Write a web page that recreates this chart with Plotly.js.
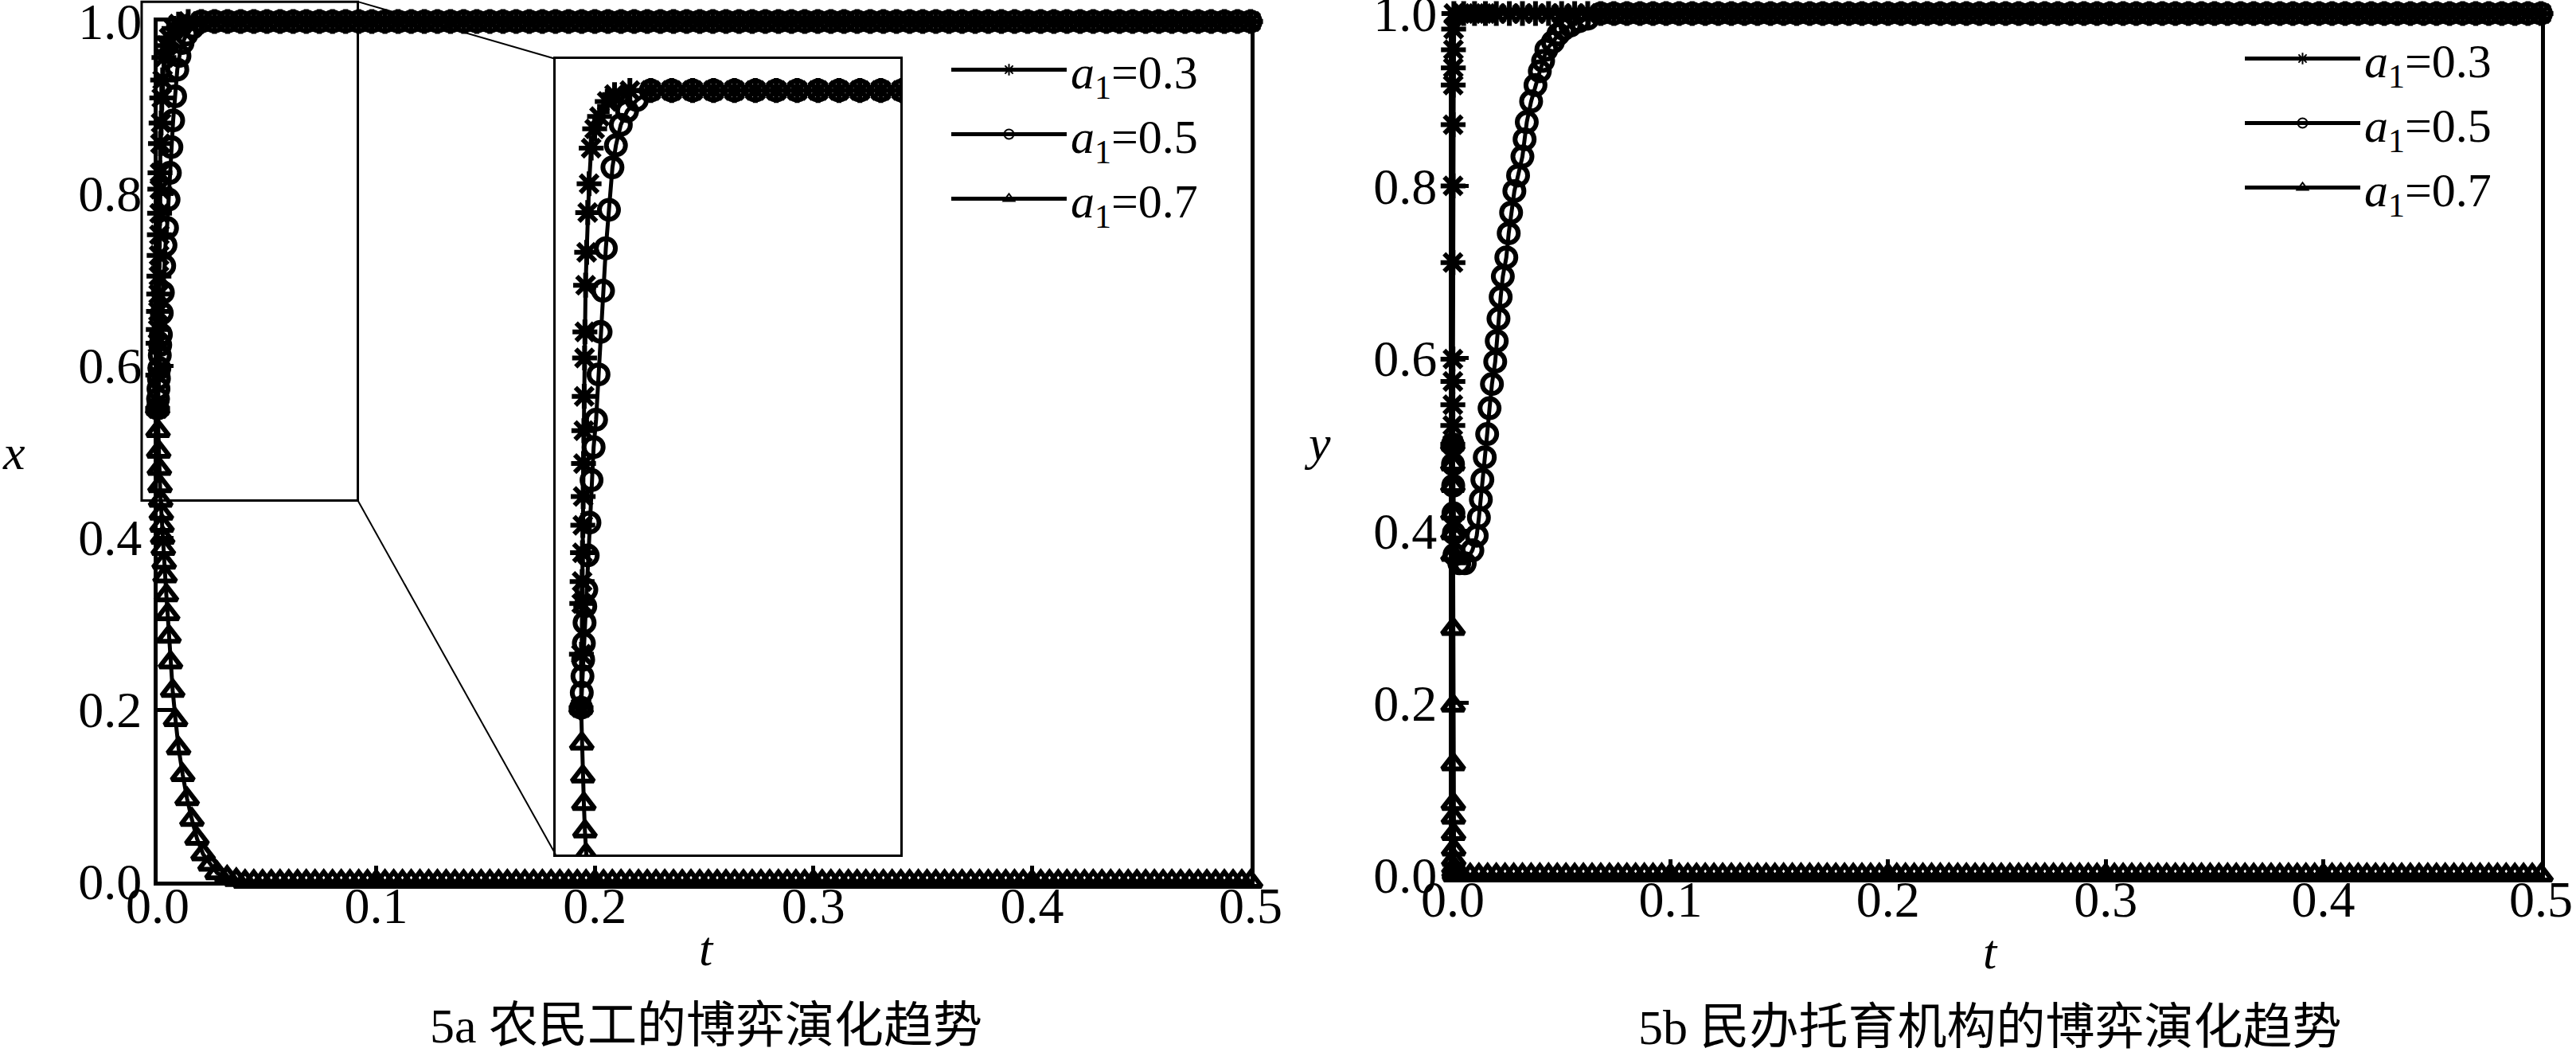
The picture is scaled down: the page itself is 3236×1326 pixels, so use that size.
<!DOCTYPE html>
<html><head><meta charset="utf-8">
<script src="https://cdn.plot.ly/plotly-3.0.1.min.js"></script>
<style>html,body{margin:0;padding:0;background:#fff;}#chart{width:3236px;height:1326px;}</style>
</head><body><div id="chart"></div>
<script>
// ---------- data ----------
const seriesNames = ['<i>a</i><sub>1</sub>=0.3', '<i>a</i><sub>1</sub>=0.5', '<i>a</i><sub>1</sub>=0.7'];
const xTicks = [0, 0.1, 0.2, 0.3, 0.4, 0.5];
const yTicks = [0, 0.2, 0.4, 0.6, 0.8, 1.0];

// shared time samples on the plateau (value 1) and on the floor (value 0)
const tTop = [0.020,0.026,0.032,0.038,0.044,0.050,0.056,0.062,0.068,0.074,
0.080,0.086,0.092,0.098,0.104,0.110,0.116,0.122,0.128,0.134,
0.140,0.146,0.152,0.158,0.164,0.170,0.176,0.182,0.188,0.194,
0.200,0.206,0.212,0.218,0.224,0.230,0.236,0.242,0.248,0.254,
0.260,0.266,0.272,0.278,0.284,0.290,0.296,0.302,0.308,0.314,
0.320,0.326,0.332,0.338,0.344,0.350,0.356,0.362,0.368,0.374,
0.380,0.386,0.392,0.398,0.404,0.410,0.416,0.422,0.428,0.434,
0.440,0.446,0.452,0.458,0.464,0.470,0.476,0.482,0.488,0.494,
0.500];
const onesTop = [1,1,1,1,1,1,1,1,1,1, 1,1,1,1,1,1,1,1,1,1,
1,1,1,1,1,1,1,1,1,1, 1,1,1,1,1,1,1,1,1,1,
1,1,1,1,1,1,1,1,1,1, 1,1,1,1,1,1,1,1,1,1,
1,1,1,1,1,1,1,1,1,1, 1,1,1,1,1,1,1,1,1,1, 1];
const tBottom = [0.040,0.044,0.048,0.052,0.056,0.060,0.064,0.068,0.072,0.076,
0.080,0.084,0.088,0.092,0.096,0.100,0.104,0.108,0.112,0.116,
0.120,0.124,0.128,0.132,0.136,0.140,0.144,0.148,0.152,0.156,
0.160,0.164,0.168,0.172,0.176,0.180,0.184,0.188,0.192,0.196,
0.200,0.204,0.208,0.212,0.216,0.220,0.224,0.228,0.232,0.236,
0.240,0.244,0.248,0.252,0.256,0.260,0.264,0.268,0.272,0.276,
0.280,0.284,0.288,0.292,0.296,0.300,0.304,0.308,0.312,0.316,
0.320,0.324,0.328,0.332,0.336,0.340,0.344,0.348,0.352,0.356,
0.360,0.364,0.368,0.372,0.376,0.380,0.384,0.388,0.392,0.396,
0.400,0.404,0.408,0.412,0.416,0.420,0.424,0.428,0.432,0.436,
0.440,0.444,0.448,0.452,0.456,0.460,0.464,0.468,0.472,0.476,
0.480,0.484,0.488,0.492,0.496,0.500];
const zerosBottom = [0,0,0,0,0,0,0,0,0,0, 0,0,0,0,0,0,0,0,0,0,
0,0,0,0,0,0,0,0,0,0, 0,0,0,0,0,0,0,0,0,0,
0,0,0,0,0,0,0,0,0,0, 0,0,0,0,0,0,0,0,0,0,
0,0,0,0,0,0,0,0,0,0, 0,0,0,0,0,0,0,0,0,0,
0,0,0,0,0,0,0,0,0,0, 0,0,0,0,0,0,0,0,0,0,
0,0,0,0,0,0,0,0,0,0, 0,0,0,0,0,0];

// 5a: x(t)
const tA03 = [0,0.0001,0.0002,0.0003,0.0004,0.0005,0.0006,0.0007,0.0008,0.0009,0.0010,0.0011,0.0013,0.0016,0.0019,0.0023,0.0029,0.0039,0.0053,0.0075,0.0096,0.0140];
const xA03 = [0.550,0.589,0.626,0.642,0.663,0.683,0.704,0.728,0.752,0.777,0.805,0.824,0.858,0.882,0.911,0.932,0.958,0.972,0.981,0.992,0.997,1.000];
const tA05 = [0,0.0002,0.0004,0.0006,0.0008,0.0010,0.0012,0.0015,0.0019,0.0024,0.0030,0.0036,0.0043,0.0050,0.0056,0.0063,0.0071,0.0080,0.0090,0.0100,0.0114,0.0132,0.0160];
const xA05 = [0.550,0.561,0.573,0.585,0.597,0.612,0.624,0.636,0.661,0.685,0.716,0.740,0.760,0.793,0.824,0.854,0.885,0.913,0.944,0.960,0.975,0.985,0.993];
const tA07 = [0,0.0002,0.0005,0.0008,0.0011,0.0014,0.0017,0.0020,0.0023,0.0026,0.0030,0.0034,0.0040,0.0046,0.0052,0.0059,0.0069,0.0082,0.0096,0.0115,0.0135,0.0157,0.0180,0.0208,0.0240,0.0272,0.0318,0.0360];
const xA07 = [0.550,0.524,0.500,0.480,0.460,0.443,0.428,0.414,0.400,0.387,0.371,0.355,0.333,0.311,0.285,0.255,0.222,0.188,0.155,0.124,0.096,0.072,0.050,0.032,0.020,0.010,0.005,0.002];

// 5b: y(t)
const tB03 = [0,0.00002,0.00004,0.00006,0.00008,0.0001,0.00013,0.00016,0.0002,0.00025,0.0003,0.0004,0.0005,0.005,0.010,0.015];
const yB03 = [0.500,0.522,0.546,0.573,0.599,0.711,0.800,0.871,0.917,0.937,0.958,0.982,1.000,1.000,1.000,1.000];
const tB05 = [0,0.0001,0.0002,0.0003,0.0005,0.0008,0.0030,0.0055,0.0090,0.0110,0.0120,0.0129,0.0136,0.0147,0.0158,0.0169,0.0180,0.0195,0.0202,0.0210,0.0220,0.0230,0.0246,0.0257,0.0268,0.0283,0.0300,0.0320,0.0330,0.0340,0.0360,0.0380,0.0400,0.0415,0.0430,0.0460,0.0485,0.0510,0.0540,0.0580,0.0620];
const yB05 = [0.500,0.477,0.452,0.420,0.397,0.372,0.362,0.362,0.377,0.394,0.415,0.436,0.459,0.485,0.512,0.542,0.570,0.596,0.620,0.646,0.671,0.695,0.717,0.745,0.769,0.794,0.812,0.834,0.854,0.874,0.898,0.917,0.933,0.945,0.958,0.967,0.976,0.982,0.986,0.991,0.994];
const tB07 = [0,0.00002,0.00004,0.00006,0.00008,0.0001,0.00013,0.00016,0.0002,0.00025,0.0003,0.00035,0.0004,0.00045,0.0005,0.0006,0.0008,0.001,0.004,0.008,0.012,0.016,0.020,0.024,0.028,0.032,0.036];
const yB07 = [0.500,0.477,0.452,0.420,0.397,0.372,0.286,0.197,0.129,0.083,0.067,0.048,0.030,0.018,0.009,0.004,0.001,0,0,0,0,0,0,0,0,0,0];

// inset (zoom) window, in data units of 5a
const zoomT = [-0.0073, 0.0916];
const zoomX = [0.443, 1.023];

// ---------- layout geometry ----------
const W = 3236, H = 1326;
const FONT = "'Liberation Serif', 'Times New Roman', 'Noto Sans CJK SC', serif";
const px = v => v / W, py = v => 1 - v / H;
const domA = { x: [px(198), px(1571)], y: [py(1107), py(27)] };
const domB = { x: [px(1825), px(3192)], y: [py(1099), py(17)] };
const domIn = { x: [px(698), px(1131)], y: [py(1073), py(74)] };

const symbols = ['asterisk-open', 'circle-open', 'triangle-up-open'];
const sizes = [26, 24, 24];
function mk(i) {
  return { symbol: symbols[i], size: sizes[i], color: '#000', line: { color: '#000', width: 6 } };
}
function tr(x, y, i, xa, ya, opts) {
  return Object.assign({
    type: 'scatter', mode: 'lines+markers', x: x, y: y, name: seriesNames[i],
    xaxis: xa, yaxis: ya, line: { color: '#000', width: 5 }, marker: mk(i), cliponaxis: false
  }, opts || {});
}

const A = [[tA03.concat(tTop), xA03.concat(onesTop)],
           [tA05.concat(tTop), xA05.concat(onesTop)],
           [tA07.concat(tBottom), xA07.concat(zerosBottom)]];
const B = [[tB03.concat(tTop), yB03.concat(onesTop)],
           [tB05.concat(tTop.slice(8)), yB05.concat(onesTop.slice(8))],
           [tB07.concat(tBottom), yB07.concat(zerosBottom)]];

const data = [];
A.forEach((s, i) => data.push(tr(s[0], s[1], i, 'x', 'y', { legend: 'legend' })));
A.forEach((s, i) => data.push(tr(s[0], s[1], i, 'x3', 'y3', { showlegend: false, cliponaxis: true })));
B.forEach((s, i) => data.push(tr(s[0], s[1], i, 'x2', 'y2', { legend: 'legend2' })));

const axisBase = {
  showline: true, linewidth: 5, linecolor: '#000', mirror: true,
  ticks: 'inside', ticklen: 20, tickwidth: 5, tickcolor: '#000',
  showgrid: false, zeroline: false, fixedrange: true, ticklabeloverflow: 'allow',
  tickfont: { family: FONT, size: 64, color: '#000' }, tickformat: '.1f'
};
const xAx = (dom, anchor) => Object.assign({}, axisBase, { domain: dom, range: [0, 0.5], tickvals: xTicks, anchor: anchor, ticklabelstandoff: -30 });
const yAx = (dom, anchor) => Object.assign({}, axisBase, { domain: dom, range: [0, 1], tickvals: yTicks, anchor: anchor, ticklabelstandoff: 2 });

// paper position of the zoom window inside 5a
const toPX = v => domA.x[0] + (v - 0) / 0.5 * (domA.x[1] - domA.x[0]);
const toPY = v => domA.y[0] + v * (domA.y[1] - domA.y[0]);
const zx0 = toPX(zoomT[0]), zx1 = toPX(zoomT[1]), zy0 = toPY(zoomX[0]), zy1 = toPY(zoomX[1]);

const shapes = [
  { type: 'rect', xref: 'paper', yref: 'paper', x0: zx0, x1: zx1, y0: zy0, y1: zy1, line: { color: '#000', width: 3 } },
  { type: 'line', xref: 'paper', yref: 'paper', x0: zx1, y0: zy1, x1: domIn.x[0], y1: domIn.y[1], line: { color: '#000', width: 2 } },
  { type: 'line', xref: 'paper', yref: 'paper', x0: zx1, y0: zy0, x1: domIn.x[0], y1: domIn.y[0], line: { color: '#000', width: 2 } }
];

const ann = (text, x, y, size, italic) => ({
  text: italic ? '<i>' + text + '</i>' : text, xref: 'paper', yref: 'paper', x: x, y: y,
  xanchor: 'center', yanchor: 'middle', showarrow: false, font: { family: FONT, size: size, color: '#000' }
});

const legendBase = {
  xanchor: 'left', yanchor: 'top', bgcolor: 'rgba(0,0,0,0)', borderwidth: 0,
  font: { family: FONT, size: 60, color: '#000' }, itemwidth: 145, itemsizing: 'constant', tracegroupgap: 0
};

const layout = {
  width: W, height: H, margin: { l: 0, r: 0, t: 0, b: 0 },
  paper_bgcolor: '#fff', plot_bgcolor: '#fff', showlegend: true,
  xaxis: xAx(domA.x, 'y'), yaxis: yAx(domA.y, 'x'),
  xaxis2: xAx(domB.x, 'y2'), yaxis2: yAx(domB.y, 'x2'),
  xaxis3: { domain: domIn.x, range: zoomT, anchor: 'y3', showline: true, mirror: true, linewidth: 3, linecolor: '#000',
            showticklabels: false, ticks: '', showgrid: false, zeroline: false, fixedrange: true },
  yaxis3: { domain: domIn.y, range: zoomX, anchor: 'x3', showline: true, mirror: true, linewidth: 3, linecolor: '#000',
            showticklabels: false, ticks: '', showgrid: false, zeroline: false, fixedrange: true },
  legend: Object.assign({}, legendBase, { x: px(1190), y: py(42) }),
  legend2: Object.assign({}, legendBase, { x: px(2815), y: py(28) }),
  shapes: shapes,
  annotations: [
    ann('x', px(17), py(568), 62, true),
    ann('y', px(1655), py(556), 62, true),
    ann('t', px(887), py(1191), 62, true),
    ann('t', px(2500), py(1195), 62, true),
    ann('5a 农民工的博弈演化趋势', px(887), py(1288), 62, false),
    ann('5b 民办托育机构的博弈演化趋势', px(2500), py(1290), 62, false)
  ]
};

Plotly.newPlot('chart', data, layout, { staticPlot: true, displayModeBar: false });
</script></body></html>
